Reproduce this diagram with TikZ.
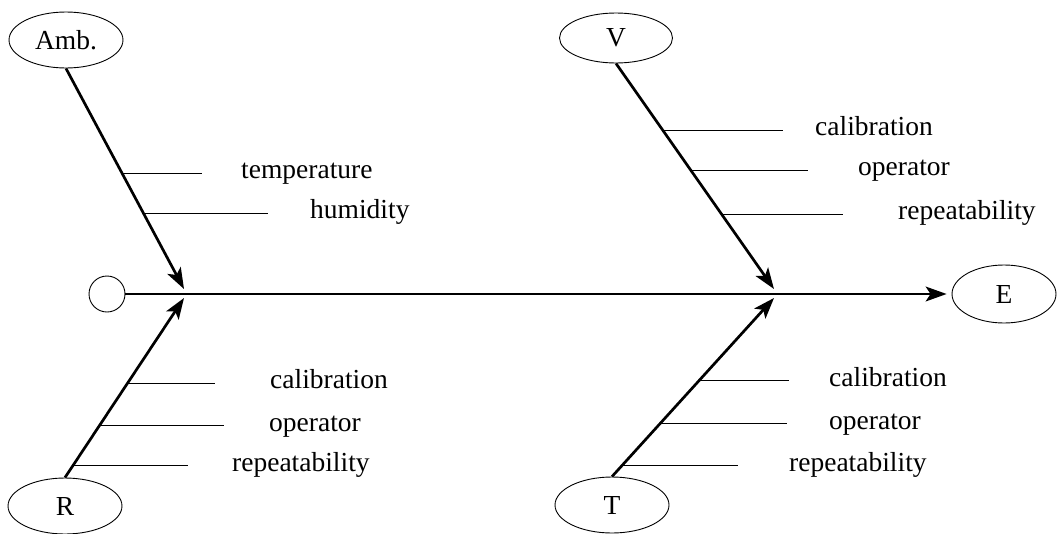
\documentclass[tikz,border=0pt]{standalone}
\usepackage{fontspec}
\setmainfont{Liberation Serif}
\usetikzlibrary{shapes.geometric,arrows.meta}
\begin{document}
\begin{tikzpicture}[x=1pt, y=-1pt, font=\fontsize{27.5}{33}\selectfont, line join=round, >={Stealth[length=21pt,width=15pt,inset=5pt]},
	cause/.style={ellipse, draw, line width=0.9pt, minimum width=114pt, minimum height=56pt, inner sep=0pt},
	arm/.style={->, line width=2.7pt},
	branch/.style={line width=1.2pt},
	lbl/.style={anchor=base west, inner sep=0pt}]
	\useasboundingbox (0,0) rectangle (1057,533);
	% causes and effect
	\node[cause] (Amb) at (66,40) {Amb.};
	\node[cause, minimum width=113pt, minimum height=50pt] (V) at (616,38) {V};
	\node[cause] (R) at (65,506) {R};
	\node[cause] (T) at (612,505) {T};
	\node[cause, minimum width=104pt, minimum height=58pt] (E) at (1004,294) {E};
	\node[circle, draw, line width=0.9pt, minimum size=36pt, inner sep=0pt] (O) at (107,294) {};
	\coordinate (tipA) at (184,289);
	\coordinate (tipR) at (184,298);
	\coordinate (tipV) at (774,289);
	\coordinate (tipT) at (774,298);
	% spine and arms
	\draw[->, line width=1.3pt, shorten >=5pt] (O) -- (E);
	\draw[arm] (Amb.south) -- (tipA);
	\draw[arm] (V.south) -- (tipV);
	\draw[arm] (R.north) -- (tipR);
	\draw[arm] (T.north) -- (tipT);
	% branches
	\foreach \p/\y/\l/\xt/\txt [count=\i] in {0.476/173/80/241/temperature, 0.657/213/124/310/humidity} {
		\path (Amb.south) -- (tipA) coordinate[pos=\p] (a\i);
		\draw[branch] (a\i) -- +(\l,0);
		\node[lbl] (la\i) at (\xt,\y+5) {\txt};
	}
	\foreach \p/\y/\l/\xt/\txt [count=\i] in {0.297/130/120/815/calibration, 0.476/170/117/858/operator, 0.671/214/121/898/repeatability} {
		\path (V.south) -- (tipV) coordinate[pos=\p] (v\i);
		\draw[branch] (v\i) -- +(\l,0);
		\node[lbl] (lv\i) at (\xt,\y+5) {\txt};
	}
	\foreach \p/\y/\l/\xt/\txt [count=\i] in {0.525/383/88/270/calibration, 0.288/426/125/269/operator, 0.067/466/115/232/repeatability} {
		\path (R.north) -- (tipR) coordinate[pos=\p] (r\i);
		\draw[branch] (r\i) -- +(\l,0);
		\node[lbl] (lr\i) at (\xt,\y+5) {\txt};
	}
	\foreach \p/\y/\l/\xt/\txt [count=\i] in {0.536/381/90/829/calibration, 0.296/424/127/829/operator, 0.0615/466/116/789/repeatability} {
		\path (T.north) -- (tipT) coordinate[pos=\p] (t\i);
		\draw[branch] (t\i) -- +(\l,0);
		\node[lbl] (lt\i) at (\xt,\y+5) {\txt};
	}
\end{tikzpicture}
\end{document}
